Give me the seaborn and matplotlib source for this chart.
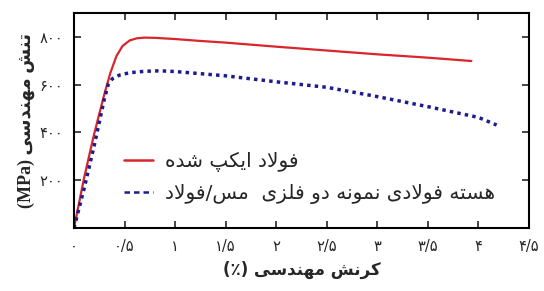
import matplotlib
matplotlib.use("Agg")
import matplotlib.pyplot as plt
import seaborn as sns
import pandas as pd

# ---------------- data ----------------
red_strain = [0, 0.1, 0.2, 0.3, 0.36, 0.42, 0.48, 0.55, 0.62, 0.7, 0.8, 1.0, 1.25, 1.5, 2.0, 2.5, 3.0, 3.5, 3.93]
red_stress = [0, 210, 395, 560, 650, 720, 762, 785, 794, 797, 796, 791, 783, 776, 759, 743, 727, 713, 699]

blue_strain = [0, 0.1, 0.2, 0.3, 0.34, 0.38, 0.45, 0.55, 0.7, 0.85, 1.0, 1.5, 2.0, 2.5, 3.0, 3.5, 4.0, 4.18]
blue_stress = [0, 165, 345, 540, 603, 625, 640, 650, 656, 658, 655, 637, 612, 589, 550, 508, 463, 431]

x_ticks = [0, 0.5, 1, 1.5, 2, 2.5, 3, 3.5, 4, 4.5]
x_tick_labels = ["۰", "۰/۵", "۱", "۱/۵", "۲", "۲/۵", "۳", "۳/۵", "۴", "۴/۵"]
y_ticks = [0, 200, 400, 600, 800]
y_tick_labels = ["", "۲۰۰", "۴۰۰", "۶۰۰", "۸۰۰"]

label_red = "فولاد ایکپ شده"
label_blue = "هسته فولادی نمونه دو فلزی  مس/فولاد"
x_label = "کرنش مهندسی"
y_label = "تنش مهندسی"

# ---------------- simple Arabic/Persian shaping ----------------
FORMS = {
    "ا": ("\uFE8D", "\uFE8E"), "د": ("\uFEA9", "\uFEAA"), "ر": ("\uFEAD", "\uFEAE"),
    "ز": ("\uFEAF", "\uFEB0"), "و": ("\uFEED", "\uFEEE"),
    "ت": ("\uFE95", "\uFE96", "\uFE97", "\uFE98"), "ن": ("\uFEE5", "\uFEE6", "\uFEE7", "\uFEE8"),
    "ش": ("\uFEB5", "\uFEB6", "\uFEB7", "\uFEB8"), "م": ("\uFEE1", "\uFEE2", "\uFEE3", "\uFEE4"),
    "ه": ("\uFEE9", "\uFEEA", "\uFEEB", "\uFEEC"), "س": ("\uFEB1", "\uFEB2", "\uFEB3", "\uFEB4"),
    "ی": ("\uFBFC", "\uFBFD", "\uFBFE", "\uFBFF"), "ک": ("\uFB8E", "\uFB8F", "\uFB90", "\uFB91"),
    "ف": ("\uFED1", "\uFED2", "\uFED3", "\uFED4"), "ل": ("\uFEDD", "\uFEDE", "\uFEDF", "\uFEE0"),
    "پ": ("\uFB56", "\uFB57", "\uFB58", "\uFB59"),
}


def dual(c):
    return c in FORMS and len(FORMS[c]) == 4


def shape(s):
    out = []
    i = 0
    n = len(s)
    while i < n:
        c = s[i]
        if c not in FORMS:
            out.append(c)
            i += 1
            continue
        prev = i > 0 and dual(s[i - 1])
        if c == "ل" and i + 1 < n and s[i + 1] == "ا":
            out.append("\uFEFC" if prev else "\uFEFB")
            i += 2
            continue
        nxt = dual(c) and i + 1 < n and s[i + 1] in FORMS
        f = FORMS[c]
        if prev and nxt:
            g = f[3]
        elif prev:
            g = f[1]
        elif nxt:
            g = f[2]
        else:
            g = f[0]
        out.append(g)
        i += 1
    return "".join(reversed(out))


# ---------------- plotting ----------------
sns.set_style("ticks")
plt.rcParams["font.family"] = ["DejaVu Sans"]

fig = plt.figure(figsize=(5.44, 2.91), dpi=100)
ax = fig.add_axes([74 / 544, 1 - 228 / 291, (529 - 74) / 544, (228 - 13) / 291])

df_red = pd.DataFrame({"strain": red_strain, "stress": red_stress})
df_blue = pd.DataFrame({"strain": blue_strain, "stress": blue_stress})

sns.lineplot(data=df_red, x="strain", y="stress", ax=ax, color="#d9252b", lw=1.6,
             label=shape(label_red), sort=False)
sns.lineplot(data=df_blue, x="strain", y="stress", ax=ax, color="#1c1c8f", lw=2.5,
             linestyle=(0, (1, 1.2)), label=shape(label_blue), sort=False)

ax.set_xlim(0, 4.5)
ax.set_ylim(0, 900)
ax.set_xticks(x_ticks)
ax.set_xticklabels(x_tick_labels, fontsize=10.5)
ax.set_yticks(y_ticks)
ax.set_yticklabels(y_tick_labels, fontsize=10.5)
ax.tick_params(direction="in", length=5, width=1.2, top=True, right=True, pad=8)
for sp in ax.spines.values():
    sp.set_linewidth(1.5)
    sp.set_color("black")

ax.set_xlabel("(٪) " + shape(x_label), fontsize=12, fontweight="bold", labelpad=5)
ax.set_ylabel("(MPa) " + shape(y_label), fontsize=13, fontweight="bold",
              family=["Liberation Serif", "DejaVu Sans"], labelpad=3)

leg = ax.legend(loc="upper left", bbox_to_anchor=(0.07, 0.44), frameon=False,
                fontsize=14.5, handlelength=1.45, labelspacing=0.6, handletextpad=0.6)
handles = leg.get_lines()
handles[0].set_linewidth(1.8)
handles[1].set_linestyle((0, (2.2, 1.6)))
handles[1].set_linewidth(1.8)

fig.savefig("out.png", dpi=100)
